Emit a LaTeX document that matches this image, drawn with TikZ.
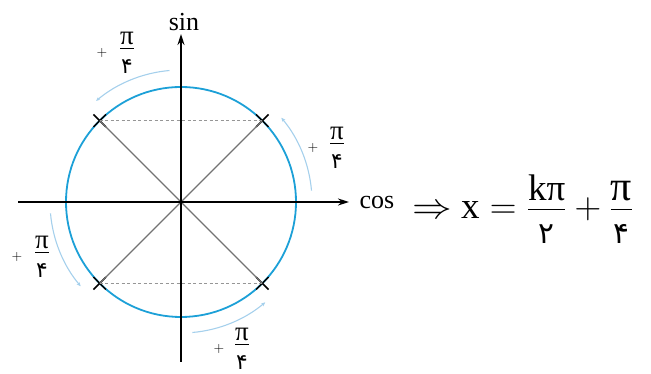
\RequirePackage{fix-cm}
\documentclass[tikz,border=0pt]{standalone}
\usepackage{fontspec}
\setmainfont{Liberation Serif}
\newfontfamily\pfont[Script=Arabic,Scale=0.8]{DejaVu Sans}
\usetikzlibrary{arrows.meta,shapes.misc,calc}
\definecolor{circblue}{RGB}{28,160,215}
\definecolor{arcblue}{RGB}{165,208,236}
\definecolor{diaggray}{RGB}{115,115,115}
\definecolor{dashgray}{RGB}{150,150,150}
\tikzset{
  axis/.style={line width=1.6pt,black,-{Stealth[length=11pt,width=7pt]}},
  xmark/.style={cross out,draw=black,line width=1.5pt,minimum size=11pt,inner sep=0pt},
  diag/.style={diaggray,line width=1.1pt},
  dashln/.style={dashgray,line width=0.8pt,dash pattern=on 3pt off 2.5pt},
  steparc/.style={arcblue,line width=1.1pt,-{Stealth[length=4pt,width=3.5pt]}},
  axlab/.style={font=\fontsize{26}{30}\selectfont,inner sep=0pt},
  fraclab/.style={font=\fontsize{27}{30}\selectfont,inner sep=0pt},
  pluslab/.style={font=\fontsize{14}{15}\selectfont,inner sep=0pt},
  eqn/.style={font=\fontsize{37}{42}\selectfont,inner sep=0pt},
  impl/.style={font=\fontsize{36}{40}\selectfont,inner sep=0pt,xscale=1.1}
}
\newcommand{\lfrac}[2]{$\displaystyle\frac{\raisebox{-8pt}{#1}}{\hbox{#2}}$}
\begin{document}
\begin{tikzpicture}[x=1pt,y=1pt]
\useasboundingbox (0,0) rectangle (651,374);
\coordinate (O) at (181,172);
% axes
\coordinate (xl) at (18,172);
\coordinate (xr) at (349,172);
\coordinate (yb) at (181,12);
\coordinate (yt) at (181,340);
% circle
\draw[circblue,line width=1.8pt] (O) circle (115);
% X marks
\node[xmark] (A) at ($(O)+(81.3,81.3)$) {};
\node[xmark] (B) at ($(O)+(-81.3,81.3)$) {};
\node[xmark] (C) at ($(O)+(-81.3,-81.3)$) {};
\node[xmark] (D) at ($(O)+(81.3,-81.3)$) {};
% diagonals and dashed lines
\draw[diag] (A.center) -- (C.center);
\draw[diag] (B.center) -- (D.center);
\draw[dashln] (B.center) -- (A.center);
\draw[dashln] (C.center) -- (D.center);
\draw[axis] (xl) -- (xr);
\draw[axis] (yb) -- (yt);
% step arcs
\draw[steparc] ($(O)+(95:132)$) arc (95:130:132);
\draw[steparc] ($(O)+(5:131)$) arc (5:40:131);
\draw[steparc] ($(O)+(185:131)$) arc (185:220:131);
\draw[steparc] ($(O)+(275:131)$) arc (275:310:131);
% axis labels
\node[axlab] (sin) at (184,352) {sin};
\node[axlab] (cos) at (377,171) {cos};
% step labels
\node[fraclab] (f1) at (127,321) {\lfrac{π}{\pfont ۴}};
\node[pluslab] (p1) at (102,321) {$+$};
\node[fraclab] (f2) at (337,226) {\lfrac{π}{\pfont ۴}};
\node[pluslab] (p2) at (313,226) {$+$};
\node[fraclab] (f3) at (42,117) {\lfrac{π}{\pfont ۴}};
\node[pluslab] (p3) at (17,117) {$+$};
\node[fraclab] (f4) at (242,25) {\lfrac{π}{\pfont ۴}};
\node[pluslab] (p4) at (219,25) {$+$};
% equation
\node[impl] (imp) at (432,162) {$\Rightarrow$};
\node[eqn,anchor=west] (eq) at (461,165) {$\displaystyle \hbox{x}=\frac{\raisebox{-7pt}{kπ}}{\hbox{\pfont ۲}}+\frac{\raisebox{-7pt}{\fontsize{42}{44}\selectfont π}}{\hbox{\pfont ۴}}$};
\end{tikzpicture}
\end{document}
